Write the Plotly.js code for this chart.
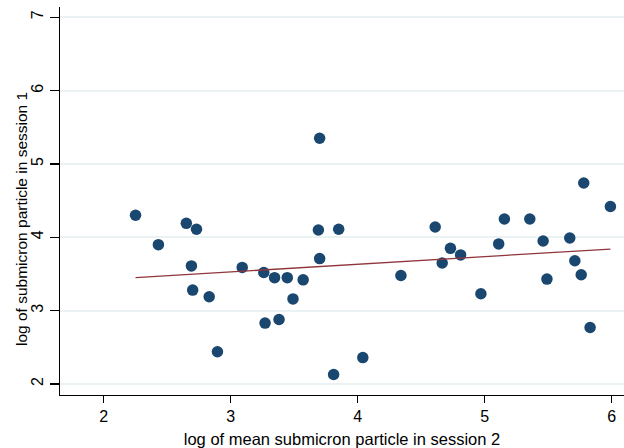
<!DOCTYPE html>
<html><head><meta charset="utf-8">
<script src="https://cdn.plot.ly/plotly-3.0.1.min.js"></script>
<style>html,body{margin:0;padding:0;background:#fff}</style>
</head><body><div id="chart" style="width:624px;height:448px"></div>
<script>
const logMeanSession2 = [2.25, 2.43, 2.65, 2.73, 2.69, 2.70, 2.83, 2.895, 3.09, 3.26,
  3.27, 3.345, 3.38, 3.445, 3.49, 3.57, 3.69, 3.70, 3.70, 3.81,
  3.85, 4.04, 4.34, 4.61, 4.665, 4.73, 4.81, 4.97, 5.11, 5.155,
  5.355, 5.46, 5.49, 5.67, 5.71, 5.76, 5.78, 5.83, 5.99];
const logSession1 = [4.30, 3.90, 4.19, 4.11, 3.61, 3.28, 3.19, 2.44, 3.59, 3.52,
  2.83, 3.45, 2.88, 3.45, 3.16, 3.42, 4.10, 5.35, 3.71, 2.13,
  4.11, 2.36, 3.48, 4.14, 3.65, 3.85, 3.76, 3.23, 3.91, 4.25,
  4.25, 3.95, 3.43, 3.99, 3.68, 3.49, 4.74, 2.77, 4.42];
const fitX = [2.25, 5.99];
const fitY = [3.45, 3.84];
const xTicks = [2, 3, 4, 5, 6];
const yTicks = [2, 3, 4, 5, 6, 7];
const xTitle = "log of mean submicron particle in session 2";
const yTitle = "log of submicron particle in session 1";

const font = "Liberation Sans, Arial, sans-serif";
const traces = [
  {x: logMeanSession2, y: logSession1, type: "scatter", mode: "markers",
   marker: {color: "#1a476f", size: 11.5}, hoverinfo: "skip"},
  {x: fitX, y: fitY, type: "scatter", mode: "lines",
   line: {color: "#90353b", width: 1.3}, hoverinfo: "skip"}
];
const layout = {
  width: 624, height: 448,
  margin: {l: 60, r: 0, t: 7, b: 53},
  paper_bgcolor: "#ffffff", plot_bgcolor: "#ffffff",
  showlegend: false,
  font: {family: font, color: "#000", size: 16},
  xaxis: {
    range: [1.655, 6.097], tickvals: xTicks, ticktext: xTicks.map(String),
    showgrid: false, zeroline: false, showline: true, linecolor: "#000", linewidth: 1.2,
    ticks: "outside", ticklen: 7, tickwidth: 1.2, tickcolor: "#000",
    tickfont: {size: 16},
    title: {text: xTitle, font: {size: 16.5}, standoff: 10}
  },
  yaxis: {
    range: [1.85, 7.14], tickvals: yTicks, ticktext: yTicks.map(String),
    showgrid: true, gridcolor: "#eaf2f3", gridwidth: 2,
    zeroline: false, showline: true, linecolor: "#000", linewidth: 1.2,
    ticks: "outside", ticklen: 9, tickwidth: 1.2, tickcolor: "#000",
    tickangle: -90, tickfont: {size: 16}
  },
  annotations: [{
    text: yTitle, textangle: -90, showarrow: false,
    xref: "paper", yref: "paper", x: 0, xshift: -39, y: 0.4536,
    xanchor: "center", yanchor: "middle",
    font: {size: 15.5, family: font, color: "#000"}
  }]
};
Plotly.newPlot("chart", traces, layout, {staticPlot: true, displayModeBar: false});
</script></body></html>
